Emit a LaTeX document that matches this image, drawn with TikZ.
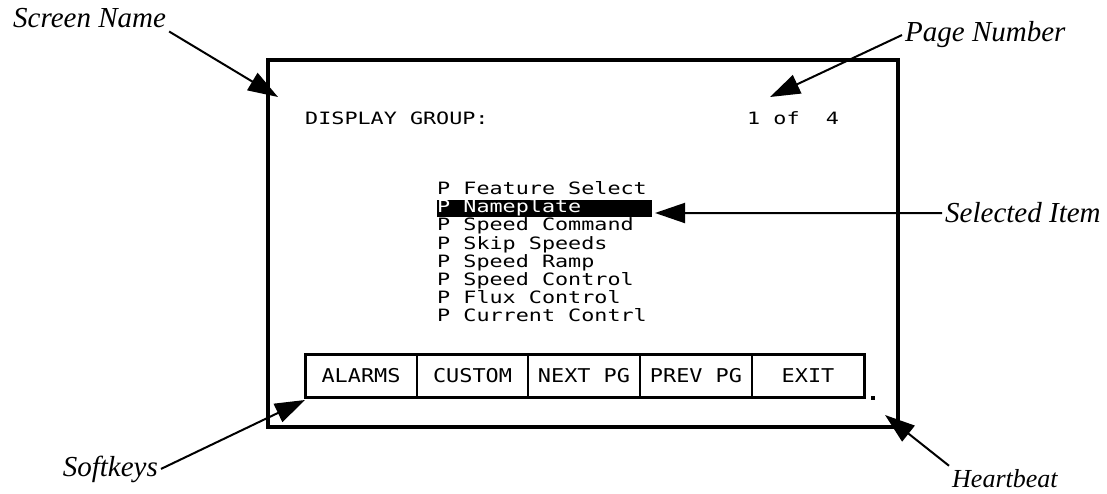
\documentclass[tikz,border=0pt]{standalone}
\usepackage{fontspec}
\setmainfont{Liberation Serif}
\newfontfamily\lcdfont[FakeStretch=1.28]{DejaVu Sans Mono}
\newfontfamily\keyfont[FakeStretch=1.15]{DejaVu Sans Mono}
\usetikzlibrary{arrows.meta}

\tikzset{
  callout/.style={font=\fontsize{29}{32}\selectfont\itshape, inner sep=3pt},
  lcd/.style={font=\lcdfont\fontsize{17}{18}\selectfont, inner sep=0pt, anchor=base west},
  softkey/.style={font=\keyfont\fontsize{19}{20}\selectfont, inner sep=0pt, anchor=base},
  pointer/.style={line width=2pt, -{Triangle[length=30pt,width=20pt]}},
}

\begin{document}
\begin{tikzpicture}[x=1pt,y=-1pt]
\useasboundingbox (0,0) rectangle (1107,494);
% screen frame
\draw [line width=4pt] (268,60) rectangle (898,427);
\node [lcd] (title) at (305,125) {DISPLAY GROUP:};
\node [lcd] (page) at (747,125) {1 of\ \ 4};
% menu
\node [lcd] (m1) at (437,195) {P Feature Select};
\fill (437,200) rectangle (652,217);
\node [lcd, text=white] (m2) at (437,213) {P Nameplate};
\node [lcd] (m3) at (437,231) {P Speed Command};
\node [lcd] (m4) at (437,249) {P Skip Speeds};
\node [lcd] (m5) at (437,267) {P Speed Ramp};
\node [lcd] (m6) at (437,285) {P Speed Control};
\node [lcd] (m7) at (437,303) {P Flux Control};
\node [lcd] (m8) at (437,321) {P Current Contrl};
% softkey bar
\draw [line width=3pt] (305,354) rectangle (864,397);
\draw [line width=2.5pt] (417,354) -- (417,397);
\draw [line width=2.5pt] (528,354) -- (528,397);
\draw [line width=2.5pt] (640,354) -- (640,397);
\draw [line width=2.5pt] (752,354) -- (752,397);
\node [softkey] (k1) at (361,382) {ALARMS};
\node [softkey] (k2) at (472.5,382) {CUSTOM};
\node [softkey] (k3) at (584,382) {NEXT PG};
\node [softkey] (k4) at (696,382) {PREV PG};
\node [softkey] (k5) at (808,382) {EXIT};
\fill (871,396) rectangle (875,400);
% callouts
\node [callout, anchor=base west] (sname) at (10,28) {Screen Name};
\node [callout, anchor=base west] (pnum) at (902,42) {Page Number};
\node [callout, anchor=base west] (selitem) at (942,223) {Selected Item};
\node [callout, anchor=base east] (soft) at (161,476) {Softkeys};
\node [callout, anchor=base west, font=\fontsize{26}{28}\selectfont\itshape] (hbeat) at (949,487) {Heartbeat};
\coordinate (snametip) at (278,97);
\coordinate (pnumtip) at (770,97);
\coordinate (seltip) at (655,213);
\coordinate (softtip) at (305,400);
\coordinate (hbtip) at (885,415);
\draw [pointer] (sname.south east) -- (snametip);
\draw [pointer] (pnum.west) -- (pnumtip);
\draw [pointer] (selitem.west) -- (seltip);
\draw [pointer] (soft.east) -- (softtip);
\draw [pointer] (hbeat.north west) -- (hbtip);
\end{tikzpicture}
\end{document}
